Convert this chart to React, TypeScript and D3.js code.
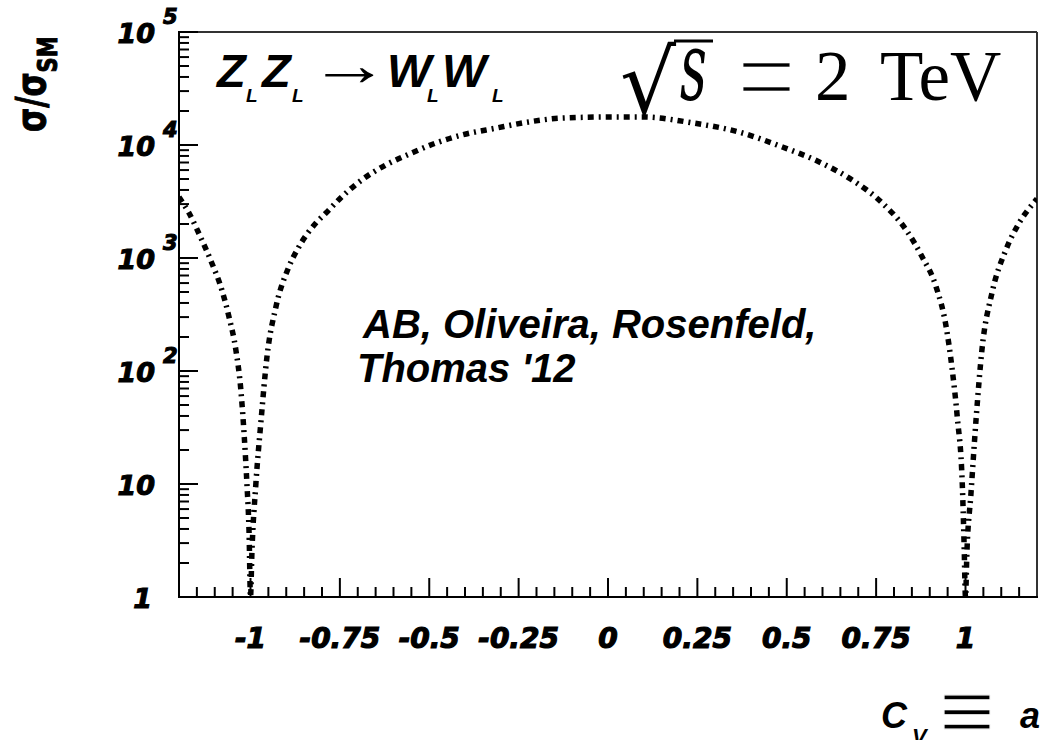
import React from "react";
import * as d3 from "d3";

// sigma/sigma_SM for Z_L Z_L -> W_L W_L at sqrt(s) = 2 TeV, versus C_V = a
const cvValues = [
  -1.2, -1.172, -1.136, -1.108, -1.08, -1.06, -1.041, -1.027, -1.018, -1.01, -1.004, -1.0,
  -0.996, -0.985, -0.971, -0.954, -0.929, -0.893, -0.865, -0.817, -0.789, -0.745, -0.689,
  -0.622, -0.549, -0.482, -0.409, -0.314, -0.222, -0.13, 0.01, 0.096, 0.236, 0.367, 0.488,
  0.591, 0.683, 0.767, 0.834, 0.879, 0.918, 0.946, 0.962, 0.977, 0.991, 0.996, 1.0,
  1.004, 1.015, 1.03, 1.046, 1.074, 1.113, 1.15, 1.197, 1.2,
];
const ratioValues = [
  3470, 2500, 1440, 900, 520, 300, 154, 68, 28, 10, 3.7, 1,
  2.5, 10, 35, 133, 368, 830, 1250, 2040, 2500, 3470, 4900,
  6650, 8500, 10400, 12250, 14100, 16000, 17300, 17700, 17700, 15700, 13000, 9600,
  7080, 4900, 3070, 1770, 1020, 553, 245, 108, 39, 10, 3, 1,
  2.5, 8, 39, 154, 490, 1180, 2040, 3260, 3350,
];

const xMajorTicks = [-1, -0.75, -0.5, -0.25, 0, 0.25, 0.5, 0.75, 1];
const yDecades = [1, 10, 100, 1000, 10000, 100000];
const yDecadeExponents = ["", "", "2", "3", "4", "5"];

const W = 1042;
const H = 740;
const M = { left: 179, right: 1037, top: 32, bottom: 597 };

const LABEL_FONT = "'DejaVu Sans', sans-serif";
const HELV = "'Liberation Sans', Arial, sans-serif";
const SERIF = "'Liberation Serif', 'DejaVu Serif', serif";

export default function App() {
  const x = d3.scaleLinear().domain([-1.2, 1.2]).range([M.left, M.right]);
  const y = d3.scaleLog().domain([1, 1e5]).range([M.bottom, M.top]);

  const pts: [number, number][] = cvValues.map((c, i) => [x(c), y(ratioValues[i])]);
  const line = d3.line<[number, number]>().curve(d3.curveMonotoneX)(pts) || "";

  const xMinor = d3
    .range(-23, 24)
    .filter((i) => i % 5 !== 0)
    .map((i) => i / 20);
  const yMinor: number[] = [];
  yDecades.slice(0, -1).forEach((d) => {
    for (let m = 2; m <= 9; m++) yMinor.push(d * m);
  });

  const majorLen = 19;
  const minorLen = 10;

  return (
    <svg
      width={W}
      height={H}
      style={{ position: "absolute", left: 0, top: 0, background: "#fff" }}
    >
      <defs>
        <clipPath id="frame-clip">
          <rect x={M.left} y={M.top} width={M.right - M.left} height={M.bottom - M.top} />
        </clipPath>
      </defs>

      {/* frame */}
      <line x1={M.left} y1={M.top} x2={M.right} y2={M.top} stroke="#333" strokeWidth={2} />
      <line x1={M.right} y1={M.top} x2={M.right} y2={M.bottom} stroke="#333" strokeWidth={2} />
      <line x1={M.left} y1={M.top - 1} x2={M.left} y2={M.bottom + 1} stroke="#000" strokeWidth={2} />
      <line x1={M.left - 1} y1={M.bottom} x2={M.right + 1} y2={M.bottom} stroke="#000" strokeWidth={2} />

      {/* x ticks */}
      {xMinor.map((v) => (
        <line key={"xm" + v} x1={x(v)} x2={x(v)} y1={M.bottom} y2={M.bottom - minorLen} stroke="#000" strokeWidth={2} />
      ))}
      {xMajorTicks.map((v) => (
        <line key={"xM" + v} x1={x(v)} x2={x(v)} y1={M.bottom} y2={M.bottom - majorLen} stroke="#000" strokeWidth={2} />
      ))}
      {xMajorTicks.map((v) => (
        <text
          key={"xl" + v}
          x={x(v)}
          y={648}
          textAnchor="middle"
          fontFamily={LABEL_FONT}
          fontWeight="bold"
          fontStyle="italic"
          fontSize={28}
          stroke="#000"
          strokeWidth={1.2}
        >
          {String(v)}
        </text>
      ))}

      {/* y ticks */}
      {yMinor.map((v) => (
        <line key={"ym" + v} x1={M.left} x2={M.left + minorLen} y1={y(v)} y2={y(v)} stroke="#000" strokeWidth={2} />
      ))}
      {yDecades.map((v) => (
        <line key={"yM" + v} x1={M.left} x2={M.left + majorLen} y1={y(v)} y2={y(v)} stroke="#000" strokeWidth={2} />
      ))}
      {yDecades.map((v, i) => (
        <g key={"yl" + v} fontFamily={LABEL_FONT} fontWeight="bold" fontStyle="italic" stroke="#000" strokeWidth={1.1}>
          <text x={v === 1 ? 152 : 155} y={y(v) + 11} textAnchor="end" fontSize={27}>
            {v === 1 ? "1" : "10"}
          </text>
          {yDecadeExponents[i] && (
            <text x={163} y={y(v) - 8} fontSize={21}>
              {yDecadeExponents[i]}
            </text>
          )}
        </g>
      ))}

      {/* y axis title */}
      <text
        transform="translate(45,132) rotate(-90) scale(1,1.3)"
        fontFamily={LABEL_FONT}
        fontWeight="bold"
        fontSize={31}
        stroke="#000"
        strokeWidth={0.8}
      >
        σ/σ
        <tspan dy={9} fontSize={21}>
          SM
        </tspan>
      </text>

      {/* curve */}
      <path
        d={line}
        fill="none"
        stroke="#000"
        strokeWidth={5.5}
        strokeDasharray="6 5 2 5"
        clipPath="url(#frame-clip)"
      />

      {/* process label */}
      <g fontFamily={HELV} fontWeight="bold" fontStyle="italic">
        <text x={217} y={87} fontSize={47}>Z</text>
        <text x={246} y={102} fontSize={19}>L</text>
        <text x={262} y={87} fontSize={47}>Z</text>
        <text x={292} y={102} fontSize={19}>L</text>
        <text x={387} y={87} fontSize={47}>W</text>
        <text x={427} y={102} fontSize={19}>L</text>
        <text x={442} y={87} fontSize={47}>W</text>
        <text x={492} y={102} fontSize={19}>L</text>
      </g>
      <text transform="translate(309,85) scale(1.35,1)" fontFamily={SERIF} fontSize={60}>→</text>

      {/* energy label */}
      <text x={620} y={113} fontFamily="'DejaVu Sans', sans-serif" fontSize={88}>√</text>
      <line x1={674} y1={41} x2={713} y2={41} stroke="#000" strokeWidth={3} />
      <text
        transform="translate(680,100) scale(0.9,1.65)"
        fontFamily="'DejaVu Serif', serif"
        fontStyle="italic"
        fontSize={58}
      >
        s
      </text>
      <text
        transform="translate(737,117) scale(1.45,1.67)"
        fontFamily={SERIF}
        fontSize={72}
        stroke="#fff"
        strokeWidth={1.6}
      >
        =
      </text>
      <text x={815} y={100} fontFamily={SERIF} fontSize={71}>2</text>
      <text x={880} y={100} fontFamily={SERIF} fontSize={71}>TeV</text>

      {/* authors */}
      <g fontFamily={HELV} fontWeight="bold" fontStyle="italic" fontSize={40}>
        <text x={363} y={338}>AB, Oliveira, Rosenfeld,</text>
        <text x={357} y={382}>Thomas '12</text>
      </g>

      {/* x axis title */}
      <g fontFamily={HELV} fontWeight="bold" fontStyle="italic">
        <text x={881} y={728} fontSize={36}>C</text>
        <text x={912} y={744} fontSize={22}>V</text>
        <text x={1020} y={728} fontSize={36}>a</text>
      </g>
      <text
        transform="translate(939,746) scale(1.55,1.6)"
        fontFamily={SERIF}
        fontSize={64}
        stroke="#fff"
        strokeWidth={0.8}
      >
        ≡
      </text>
    </svg>
  );
}
